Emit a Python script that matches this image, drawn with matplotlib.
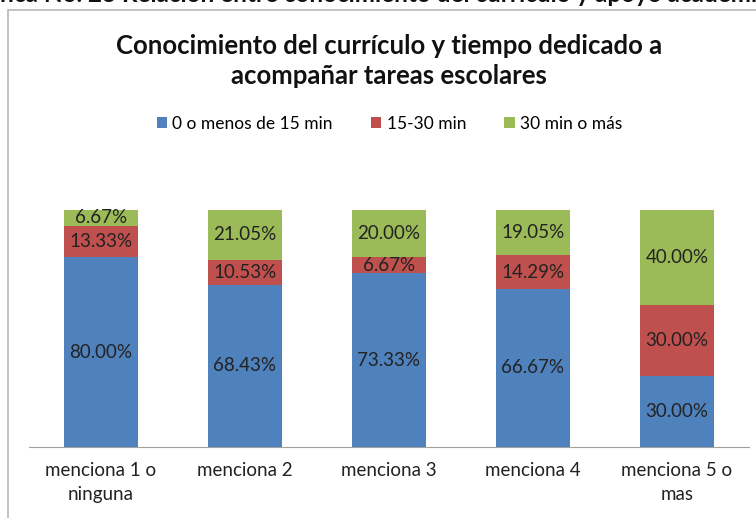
import matplotlib.pyplot as plt
from matplotlib.patches import Rectangle

plt.rcParams['font.family'] = ['Lato', 'DejaVu Sans']

# datos
categorias = ['menciona 1 o\nninguna', 'menciona 2', 'menciona 3', 'menciona 4', 'menciona 5 o\nmas']
series = ['0 o menos de 15 min', '15-30 min', '30 min o más']
menos_15 = [80.00, 68.43, 73.33, 66.67, 30.00]
de_15_30 = [13.33, 10.53, 6.67, 14.29, 30.00]
mas_30 = [6.67, 21.05, 20.00, 19.05, 40.00]
colores = ['#4F81BD', '#C0504D', '#9BBB59']

fig = plt.figure(figsize=(7.56, 5.18), dpi=100)
ax = fig.add_axes([29 / 756, 1 - 447 / 518, 720 / 756, 237 / 518])

x = range(len(categorias))
base = [0] * len(categorias)
for nombre, vals, col in zip(series, [menos_15, de_15_30, mas_30], colores):
    barras = ax.bar(x, vals, bottom=base, width=0.51, color=col, label=nombre)
    for b, v, y0 in zip(barras, vals, base):
        ax.text(b.get_x() + b.get_width() / 2, y0 + v / 2, f'{v:.2f}%',
                ha='center', va='center', fontsize=13.5, color='#222222')
    base = [a + v for a, v in zip(base, vals)]

ax.set_ylim(0, 100)
ax.set_xlim(-0.5, len(categorias) - 0.5)
ax.set_xticks(list(x))
ax.set_xticklabels(categorias, fontsize=13.5, color='#222222', linespacing=1.45)
ax.tick_params(axis='x', length=0, pad=11)
ax.set_yticks([])
for lado in ['top', 'right', 'left']:
    ax.spines[lado].set_visible(False)
ax.spines['bottom'].set_color('#A0A0A0')

# marco del gráfico
fig.patches.append(Rectangle((8 / 756, -0.1), 1.2, 1.1 - 10 / 518, transform=fig.transFigure,
                             fill=False, edgecolor='#B8B8B8', linewidth=1.2))

# leyenda
fig.legend(loc='center', bbox_to_anchor=(0.515, 1 - 124 / 518), ncol=3, frameon=False,
           fontsize=12.5, handlelength=0.6, handleheight=0.6, handletextpad=0.3, columnspacing=2.2)

# título
fig.text(0.515, 1 - 61 / 518, 'Conocimiento del currículo y tiempo dedicado a\nacompañar tareas escolares',
         ha='center', va='center', fontsize=18.5, fontweight='bold', color='#111111', linespacing=1.32)

# encabezado cortado arriba (como en la imagen original)
fig.text(-0.053, 1 - 2.5 / 518, 'Gráfica No. 23 Relación entre conocimiento del currículo y apoyo académico',
         ha='left', va='baseline', fontsize=17.5, fontweight='bold', color='#111111')

fig.savefig('out.png', dpi=100)
